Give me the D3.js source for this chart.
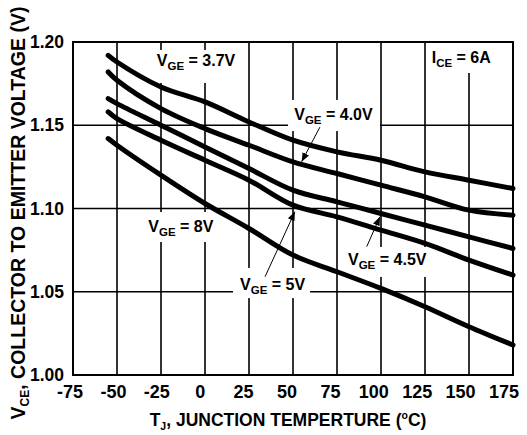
<!DOCTYPE html>
<html>
<head>
<meta charset="utf-8">
<script src="https://d3js.org/d3.v7.min.js"></script>
<style>
  body { margin: 0; background: #fff; }
  text { font-family: 'Liberation Sans', Arial, sans-serif; font-weight: bold; fill: #000; }
</style>
</head>
<body>
<div id="chart"></div>
<script>

// DATA

var temps = [-55, -50, -25, 0, 25, 50, 75, 100, 125, 150, 175];
var vge37 = [1.192, 1.188, 1.173, 1.164, 1.152, 1.141, 1.134, 1.129, 1.122, 1.117, 1.112];
var vge40 = [1.182, 1.177, 1.160, 1.148, 1.138, 1.128, 1.121, 1.114, 1.107, 1.099, 1.096];
var vge45 = [1.166, 1.163, 1.150, 1.137, 1.124, 1.111, 1.104, 1.097, 1.090, 1.083, 1.076];
var vge50 = [1.158, 1.154, 1.141, 1.129, 1.117, 1.102, 1.095, 1.087, 1.079, 1.069, 1.060];
var vge80 = [1.142, 1.138, 1.120, 1.103, 1.088, 1.072, 1.062, 1.052, 1.041, 1.029, 1.018];

var xTicks = [-75, -50, -25, 0, 25, 50, 75, 100, 125, 150, 175];
var yTicks = [1.00, 1.05, 1.10, 1.15, 1.20];

var width = 527, height = 435;
var margin = { left: 73, top: 42, right: 14, bottom: 60 };

var x = d3.scaleLinear().domain([-75, 175]).range([margin.left, width - margin.right]);
var y = d3.scaleLinear().domain([1.00, 1.20]).range([height - margin.bottom, margin.top]);

var svg = d3.select('#chart')
  .append('svg')
    .attr('width', width)
    .attr('height', height);

// GRID

svg.append('g').selectAll('line.vgrid')
  .data(xTicks)
  .enter().append('line')
    .attr('class', 'vgrid')
    .attr('x1', function(d) { return x(d) }).attr('x2', function(d) { return x(d) })
    .attr('y1', y(1.00)).attr('y2', y(1.20))
    .attr('stroke', '#000').attr('stroke-width', 1.6);

svg.append('g').selectAll('line.hgrid')
  .data(yTicks)
  .enter().append('line')
    .attr('class', 'hgrid')
    .attr('y1', function(d) { return y(d) }).attr('y2', function(d) { return y(d) })
    .attr('x1', x(-75)).attr('x2', x(175))
    .attr('stroke', '#000').attr('stroke-width', 1.6);

// white boxes behind the labels, they cut the grid
var boxes = [
  [-31, 20, 1.1952, 1.1754],
  [126.7, 167.6, 1.1994, 1.1814],
  [47.2, 99.4, 1.1652, 1.1465],
  [-35.2, 7.4, 1.0979, 1.0799],
  [15.9, 59.7, 1.0643, 1.0462],
  [78.4, 129, 1.0769, 1.0589]
];
svg.append('g').selectAll('rect')
  .data(boxes)
  .enter().append('rect')
    .attr('x', function(d) { return x(d[0]) })
    .attr('y', function(d) { return y(d[2]) })
    .attr('width', function(d) { return x(d[1]) - x(d[0]) })
    .attr('height', function(d) { return y(d[3]) - y(d[2]) })
    .attr('fill', '#fff');

// frame
svg.append('rect')
  .attr('x', x(-75)).attr('y', y(1.20))
  .attr('width', x(175) - x(-75)).attr('height', y(1.00) - y(1.20))
  .attr('fill', 'none').attr('stroke', '#000').attr('stroke-width', 2);

// CURVES

var line = d3.line()
  .x(function(d, i) { return x(temps[i]) })
  .y(function(d) { return y(d) })
  .curve(d3.curveCatmullRom.alpha(0.5));

svg.append('g').selectAll('path.curve')
  .data([vge37, vge40, vge45, vge50, vge80])
  .enter().append('path')
    .attr('class', 'curve')
    .attr('d', line)
    .attr('fill', 'none')
    .attr('stroke', '#000')
    .attr('stroke-width', 5)
    .attr('stroke-linecap', 'round');

// AXIS LABELS

svg.append('g').selectAll('text')
  .data(yTicks)
  .enter().append('text')
    .text(function(d) { return d3.format('.2f')(d) })
    .attr('x', 64)
    .attr('y', function(d) { return y(d) + 6 })
    .attr('text-anchor', 'end')
    .attr('font-size', 17.5);

svg.append('g').selectAll('text')
  .data(xTicks)
  .enter().append('text')
    .text(function(d) { return d })
    .attr('x', function(d, i) { return x(d) - 3 - i * 0.6 })
    .attr('y', 398)
    .attr('text-anchor', 'middle')
    .attr('font-size', 18);

var xt = svg.append('text')
  .attr('x', 288).attr('y', 426)
  .attr('text-anchor', 'middle')
  .attr('font-size', 17.5);
xt.append('tspan').text('T');
xt.append('tspan').text('J').attr('font-size', 10.5).attr('dy', 4);
xt.append('tspan').text(', JUNCTION TEMPERTURE (').attr('dy', -4);
xt.append('tspan').text('o').attr('font-size', 10.5).attr('dy', -7);
xt.append('tspan').text('C)').attr('dy', 7);

var yt = svg.append('text')
  .attr('transform', 'translate(25,213) rotate(-90)')
  .attr('text-anchor', 'middle')
  .attr('font-size', 19.5);
yt.append('tspan').text('V');
yt.append('tspan').text('CE').attr('font-size', 12).attr('dy', 4);
yt.append('tspan').text(', COLLECTOR TO EMITTER VOLTAGE (V)').attr('dy', -4);

// ANNOTATIONS

function label(T, V, main, sub, rest) {
  var t = svg.append('text')
    .attr('x', x(T)).attr('y', y(V))
    .attr('font-size', 16);
  t.append('tspan').text(main);
  t.append('tspan').text(sub).attr('font-size', 11.5).attr('dy', 4);
  t.append('tspan').text(rest).attr('dy', -4);
}

label(-27.4, 1.1856, 'V', 'GE', ' = 3.7V');
label(128.8, 1.1874, 'I', 'CE', ' = 6A');
label(50.7, 1.1532, 'V', 'GE', ' = 4.0V');
label(-32.2, 1.0861, 'V', 'GE', ' = 8V');
label(19.9, 1.0511, 'V', 'GE', ' = 5V');
label(81.25, 1.0661, 'V', 'GE', ' = 4.5V');

svg.append('defs').append('marker')
  .attr('id', 'head')
  .attr('viewBox', '0 0 10 10')
  .attr('refX', 10).attr('refY', 5)
  .attr('markerWidth', 9).attr('markerHeight', 9)
  .attr('markerUnits', 'userSpaceOnUse')
  .attr('orient', 'auto')
  .append('path')
    .attr('d', 'M0,1 L10,5 L0,9 Z')
    .attr('fill', '#000');

var arrows = [
  [65.3, 1.1489, 54.9, 1.1281],
  [34.1, 1.0590, 51.1, 1.0981],
  [91.9, 1.0771, 99.4, 1.0951]
];
svg.append('g').selectAll('line')
  .data(arrows)
  .enter().append('line')
    .attr('x1', function(d) { return x(d[0]) })
    .attr('y1', function(d) { return y(d[1]) })
    .attr('x2', function(d) { return x(d[2]) })
    .attr('y2', function(d) { return y(d[3]) })
    .attr('stroke', '#000')
    .attr('stroke-width', 1)
    .attr('marker-end', 'url(#head)');

</script>
</body>
</html>
